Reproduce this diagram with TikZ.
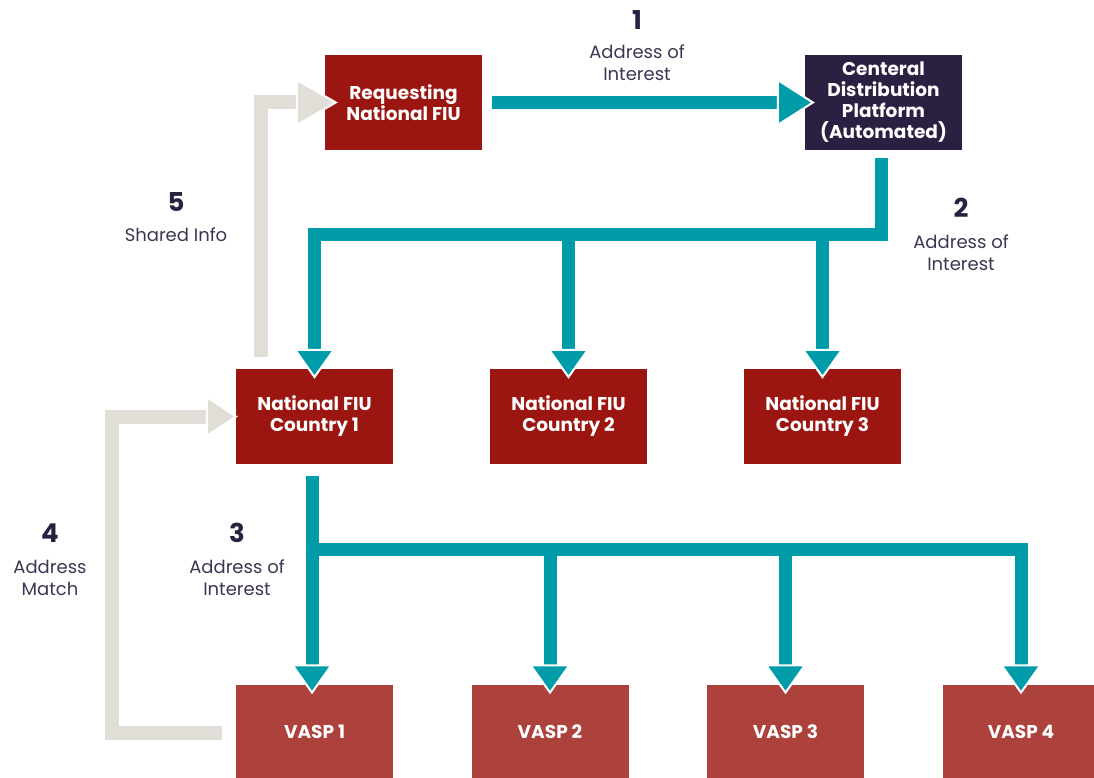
\documentclass[tikz,border=0pt]{standalone}
\usepackage{fontspec}
\setmainfont{Poppins}
\usetikzlibrary{arrows.meta,calc}
\definecolor{boxred}{HTML}{9B1511}
\definecolor{vaspred}{HTML}{AD413B}
\definecolor{darkbox}{HTML}{2B1F42}
\definecolor{tealc}{HTML}{009CAA}
\definecolor{beigec}{HTML}{E1DED7}
\definecolor{numc}{HTML}{2B2040}
\definecolor{labc}{HTML}{3C3652}
\begin{document}
\begin{tikzpicture}[x=1pt,y=-1pt,
  box/.style={minimum width=157pt, minimum height=95pt, inner sep=0pt, text=white,
    font=\bfseries\fontsize{18.5}{21}\selectfont, align=center},
  redbox/.style={box, fill=boxred},
  darkbx/.style={box, fill=darkbox},
  vaspbox/.style={box, fill=vaspred},
  numlab/.style={text=numc, font=\bfseries\fontsize{26}{30}\selectfont, inner sep=0pt},
  txtlab/.style={text=labc, font=\fontsize{18}{22}\selectfont, align=center, inner sep=0pt},
  tealarrow/.style={draw=tealc, line width=13pt,
    -{Triangle[width=42pt,length=30pt,color=white,fill=tealc,line width=2pt]}},
  bigteal/.style={draw=tealc, line width=13pt,
    -{Triangle[width=48pt,length=38pt,color=white,fill=tealc,line width=2pt]}},
  beigearrow/.style={draw=beigec, line width=14pt,
    -{Triangle[width=42pt,length=32pt,color=white,fill=beigec,line width=2pt]}},
  bigbeige/.style={draw=beigec, line width=14pt,
    -{Triangle[width=48pt,length=42pt,color=white,fill=beigec,line width=2pt]}}
]
\useasboundingbox (0,0) rectangle (1094,778);
\clip (0,0) rectangle (1094,778);

% boxes
\node[redbox] (req) at (403.5,102.5) {Requesting\\National FIU};
\node[darkbx] (cdp) at (883.5,102.5) {Centeral\\Distribution\\Platform\\(Automated)};
\node[redbox] (n1) at (314.5,416.5) {National FIU\\Country 1};
\node[redbox] (n2) at (568.5,416.5) {National FIU\\Country 2};
\node[redbox] (n3) at (822.5,416.5) {National FIU\\Country 3};
\node[vaspbox] (v1) at (314.5,732) {VASP 1};
\node[vaspbox] (v2) at (550,732) {VASP 2};
\node[vaspbox] (v3) at (785.5,732) {VASP 3};
\node[vaspbox] (v4) at (1021,732) {VASP 4};

% labels
\node[numlab] (num1) at (637,20) {1};
\node[txtlab] (lab1) at (637,63) {Address of\\Interest};
\node[numlab] (num2) at (961,208) {2};
\node[txtlab] (lab2) at (961,253) {Address of\\Interest};
\node[numlab] (num5) at (176,202) {5};
\node[txtlab] (lab5) at (176,235) {Shared Info};
\node[numlab] (num4) at (50,533) {4};
\node[txtlab] (lab4) at (50,578) {Address\\Match};
\node[numlab] (num3) at (237,533) {3};
\node[txtlab] (lab3) at (237,578) {Address of\\Interest};

% beige return arrows
\coordinate (b5s) at ($(n1.north west)+(25,-12)$);
\draw[bigbeige] (b5s) |- ([xshift=13pt]req.west);
\coordinate (b4s) at ($(v1.west)+(-14,1)$);
\draw[beigearrow] (b4s) -- ++(-110,0) |- ([xshift=2pt]n1.west);

% teal arrow 1
\draw[bigteal] ([xshift=10pt]req.east) -- ([xshift=10pt]cdp.west);

% teal branch 2
\draw[tealarrow] ([xshift=-2.5pt,yshift=-8pt]cdp.south) -- ++(0,76) -| ([yshift=-10pt]n1.north);
\coordinate (h2) at ($(cdp.south)+(0,84)$);
\draw[tealarrow] (n2.north |- h2) -- ([yshift=-10pt]n2.north);
\draw[tealarrow] (n3.north |- h2) -- ([yshift=-10pt]n3.north);

% teal branch 3
\draw[tealarrow] ([xshift=-2.5pt,yshift=-12pt]n1.south) -- ([xshift=-2.5pt,yshift=-10pt]v1.north);
\coordinate (h3) at ($(n1.south)+(-2.5,85)$);
\draw[tealarrow] (h3) -| ([yshift=-10pt]v4.north);
\draw[tealarrow] (v2.north |- h3) -- ([yshift=-10pt]v2.north);
\draw[tealarrow] (v3.north |- h3) -- ([yshift=-10pt]v3.north);
\end{tikzpicture}
\end{document}
